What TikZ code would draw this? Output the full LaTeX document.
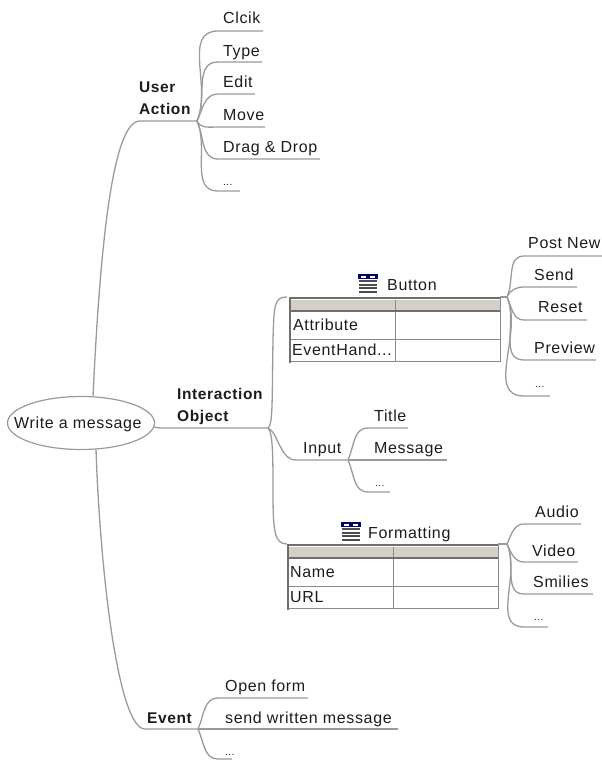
\documentclass[tikz,border=0pt]{standalone}
\usepackage{fontspec}
\setmainfont{Liberation Sans}[LetterSpace=4]
\usetikzlibrary{shapes.geometric}
\definecolor{lnk}{HTML}{9A9A9A}
\definecolor{tbl}{HTML}{8A8A8A}
\definecolor{hdr}{HTML}{D4D0C8}
\definecolor{ink}{HTML}{1C1C1C}
\tikzset{
 lbl/.style={anchor=base west,yshift=-5.7pt,inner sep=0pt,font=\fontsize{16}{18}\selectfont,text=ink},
 bold/.style={anchor=base west,yshift=-5.7pt,inner sep=0pt,font=\fontsize{15.5}{18}\selectfont\bfseries,text=ink},
 link/.style={draw=lnk,line width=1.3pt},
 tline/.style={draw=tbl,line width=1pt},
 tthick/.style={draw=tbl!80!black,line width=2pt},
 up/.style={out=65,in=180},
 dn/.style={out=-65,in=180},
}
\newcommand{\tabicon}[2]{%
 \fill[blue!45!black] (#1-10,#2-9) rectangle (#1+10,#2-4);
 \fill[white] (#1-7,#2-7.5) rectangle (#1-2,#2-5.5);
 \fill[white] (#1+2,#2-7.5) rectangle (#1+7,#2-5.5);
 \foreach \r in {-3,0.5,4,7.5}{\foreach \c in {-9,-3,3}{\fill[black!70] (#1+\c,#2+\r) rectangle (#1+\c+5.5,#2+\r+2.2);}}
}
\newcommand{\mydots}{{\fontsize{10}{12}\selectfont ...}}
\begin{document}
\begin{tikzpicture}[x=1pt,y=-1pt]
\useasboundingbox (0,0) rectangle (602,760);
% root
\node[ellipse,draw=lnk,line width=1.2pt,minimum width=147pt,minimum height=53pt,inner sep=0pt] (root) at (81,423) {};
\node[lbl] (rootlbl) at (14,423) {Write a message};
\coordinate (rootU) at (93,396);
\coordinate (rootI) at (154,427);
\coordinate (rootE) at (96,449);
% junctions
\coordinate (jU) at (197,121);
\coordinate (jI) at (268,428);
\coordinate (jE) at (198,729);
\coordinate (jIn) at (348,460);
\coordinate (jB) at (507,297);
\coordinate (jF) at (507,544);
% level-1
\draw[link] (rootU) .. controls (100,250) and (112,121) .. (140,121) -- (jU);
\draw[link] (rootI) .. controls (158,428) and (160,428) .. (165,428) -- (jI);
\draw[link] (rootE) .. controls (100,570) and (118,729) .. (145,729) -- (jE);
\node[bold] (ua1) at (139,87) {User};
\node[bold] (ua2) at (139,109) {Action};
\node[bold] (io1) at (177,394) {Interaction};
\node[bold] (io2) at (177,416) {Object};
\node[bold] (ev) at (147,718) {Event};
% user action
\foreach \n/\t/\ly/\uy/\ux/\st/\sx in {a/Clcik/18/31/263/up/218, b/Type/51/62/262/up/218, c/Edit/82/94/255/up/218, d/Move/115/127/265/dn/218, e/Drag \& Drop/147/159/320/dn/218, f/\mydots/179.5/191/240/dn/218}{
 \node[lbl] (\n) at (223,\ly) {\t};
 \coordinate (\n s) at (\sx,\uy);
 \coordinate (\n e) at (\ux,\uy);
 \draw[link] (jU) to[\st] (\n s) -- (\n e);
}
% event
\foreach \n/\t/\ly/\uy/\ux in {g/Open form/686/698/308, h/send written message/718/729/398, i/\mydots/750/759/232}{
 \node[lbl] (\n) at (225,\ly) {\t};
 \coordinate (\n s) at (218,\uy);
 \coordinate (\n e) at (\ux,\uy);
}
\draw[link] (jE) to[up] (gs) -- (ge);
\draw[link] (jE) -- (hs) -- (he);
\draw[link] (jE) to[dn] (is) -- (ie);
% interaction branches
\coordinate (btl) at (287,297);
\coordinate (ftl) at (287,544);
\coordinate (ins) at (296,460);
\draw[link] (jI) .. controls (273,425) and (272,400) .. (273,340) .. controls (274,305) and (274,297) .. (btl);
\draw[link] (jI) .. controls (273,432) and (273,460) .. (273,490) .. controls (273,530) and (274,544) .. (ftl);
\draw[link] (jI) .. controls (278,432) and (280,460) .. (ins) -- (jIn);
\node[lbl] (inp) at (303,448) {Input};
% button table
\fill[hdr] (290,300) rectangle (500,311);
\draw[tline] (290,311) rectangle (500,361);
\draw[tline] (290,339) -- (500,339);
\draw[tline] (395,300) -- (395,361);
\draw[tthick] (290,363) -- (290,298) -- (500,298);
\draw[tthick] (290,311) -- (500,311);
\draw[tline] (500,298) -- (500,311);
\draw[link] (500,297) -- (jB);
\node[lbl] (attr) at (293,325) {Attribute};
\node[lbl] (evh) at (292,350) {EventHand...};
\node[lbl] (btn) at (387,285) {Button};
\tabicon{368}{283}
% formatting table
\fill[hdr] (288,547) rectangle (498,558);
\draw[tline] (288,558) rectangle (498,608);
\draw[tline] (288,586) -- (498,586);
\draw[tline] (393,547) -- (393,608);
\draw[tthick] (288,610) -- (288,545) -- (498,545);
\draw[tthick] (288,558) -- (498,558);
\draw[tline] (498,545) -- (498,558);
\draw[link] (498,544) -- (jF);
\node[lbl] (nam) at (290,572) {Name};
\node[lbl] (url) at (290,597) {URL};
\node[lbl] (fmt) at (368,533) {Formatting};
\tabicon{351}{531}
% input children
\foreach \n/\t/\lx/\ly/\uy/\ux in {j/Title/374/416/428/408, k/Message/374/448/460/447, l/\mydots/375/481/492/390}{
 \node[lbl] (\n) at (\lx,\ly) {\t};
 \coordinate (\n s) at (368,\uy);
 \coordinate (\n e) at (\ux,\uy);
}
\draw[link] (jIn) to[up] (js) -- (je);
\draw[link] (jIn) -- (ks) -- (ke);
\draw[link] (jIn) to[dn] (ls) -- (le);
% button children
\foreach \n/\t/\lx/\ly/\uy/\ux/\st in {m/Post New/528/243/256/602/up, o/Send/534/275/287/577/up, p/Reset/538/307/320/587/dn, q/Preview/534/348/360/596/dn, r/\mydots/535/382/396/550/dn}{
 \node[lbl] (\n) at (\lx,\ly) {\t};
 \coordinate (\n s) at (524,\uy);
 \coordinate (\n e) at (\ux,\uy);
 \draw[link] (jB) to[\st] (\n s) -- (\n e);
}
% formatting children
\foreach \n/\t/\lx/\ly/\uy/\ux/\st in {s/Audio/535/512/524/581/up, t/Video/532/551/562/578/dn, u/Smilies/533/582/594/593/dn, v/\mydots/534/615/627/548/dn}{
 \node[lbl] (\n) at (\lx,\ly) {\t};
 \coordinate (\n s) at (524,\uy);
 \coordinate (\n e) at (\ux,\uy);
 \draw[link] (jF) to[\st] (\n s) -- (\n e);
}
\end{tikzpicture}
\end{document}
